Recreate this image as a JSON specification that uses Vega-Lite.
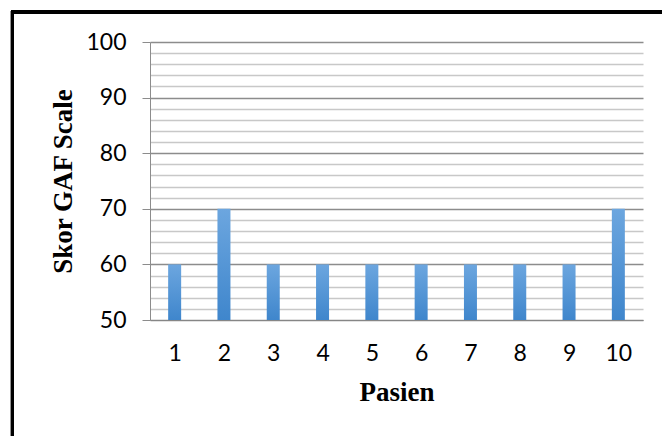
{
  "$schema": "https://vega.github.io/schema/vega-lite/v6.json",
  "width": 493,
  "height": 278,
  "autosize": "none",
  "padding": {"left": 150, "top": 42, "right": 19, "bottom": 116},
  "background": "white",
  "config": {"view": {"stroke": null}},
  "data": {"values": [
    {"Pasien": 1, "Skor": 60},
    {"Pasien": 2, "Skor": 70},
    {"Pasien": 3, "Skor": 60},
    {"Pasien": 4, "Skor": 60},
    {"Pasien": 5, "Skor": 60},
    {"Pasien": 6, "Skor": 60},
    {"Pasien": 7, "Skor": 60},
    {"Pasien": 8, "Skor": 60},
    {"Pasien": 9, "Skor": 60},
    {"Pasien": 10, "Skor": 70}
  ]},
  "layer": [
    {
      "mark": {
        "type": "bar",
        "width": 13,
        "color": {
          "gradient": "linear",
          "x1": 0, "y1": 0, "x2": 0, "y2": 1,
          "stops": [
            {"offset": 0, "color": "#6ca6df"},
            {"offset": 1, "color": "#3f86cc"}
          ]
        }
      },
      "encoding": {
        "x": {
          "field": "Pasien",
          "type": "quantitative",
          "scale": {"domain": [0.5, 10.5], "nice": false, "zero": false, "padding": 0},
          "axis": {
            "title": "Pasien",
            "values": [1, 2, 3, 4, 5, 6, 7, 8, 9, 10],
            "tickCount": 20,
            "format": "d",
            "grid": false,
            "ticks": false,
            "domain": true,
            "domainColor": "#868686",
            "domainWidth": 1,
            "labelFont": "Lato",
            "labelFontSize": 23,
            "labelColor": "#000000",
            "labelPadding": 22,
            "labelOverlap": false,
            "titleFont": "Liberation Serif",
            "titleFontSize": 27,
            "titleFontWeight": "bold",
            "titleColor": "#000000",
            "titlePadding": 14
          }
        },
        "y": {
          "field": "Skor",
          "type": "quantitative",
          "scale": {"domain": [50, 100], "nice": false, "zero": false},
          "axis": {
            "title": "Skor GAF Scale",
            "values": [50, 52, 54, 56, 58, 60, 62, 64, 66, 68, 70, 72, 74, 76, 78, 80, 82, 84, 86, 88, 90, 92, 94, 96, 98, 100],
            "tickCount": 30,
            "labelOverlap": false,
            "labelExpr": "datum.value % 10 === 0 ? datum.label : ''",
            "grid": true,
            "gridColor": {"condition": {"test": "datum.value % 10 === 0", "value": "#8c8c8c"}, "value": "#c8c8c8"},
            "gridWidth": 1.3,
            "ticks": true,
            "tickSize": 8,
            "tickColor": "#8c8c8c",
            "tickOpacity": {"condition": {"test": "datum.value % 10 === 0", "value": 1}, "value": 0},
            "domain": true,
            "domainColor": "#8c8c8c",
            "labelFont": "Lato",
            "labelFontSize": 23,
            "labelColor": "#000000",
            "labelPadding": 16,
            "titleFont": "Liberation Serif",
            "titleFontSize": 27,
            "titleFontWeight": "bold",
            "titleColor": "#000000",
            "titlePadding": 8
          }
        },
        "y2": {"datum": 50}
      }
    },
    {
      "mark": {"type": "rect", "fill": null, "stroke": "#000000", "strokeWidth": 3},
      "encoding": {
        "x": {"datum": -2.29},
        "x2": {"datum": 30},
        "y": {"datum": 105.4},
        "y2": {"datum": 0}
      }
    }
  ]
}
